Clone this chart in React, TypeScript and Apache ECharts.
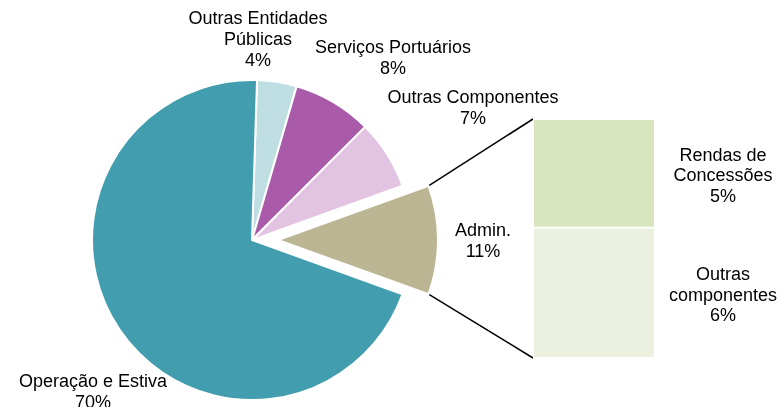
import React, { useEffect, useRef } from "react";
import * as echarts from "echarts";

const pieNames = ["Outras Entidades\nPúblicas", "Serviços Portuários", "Outras Componentes", "Admin.", "Operação e Estiva"];
const pieValues = [4, 8, 7, 11, 70];
const pieColors = ["#BEDEE2", "#A95BAA", "#E3C3E2", "#BCB594", "#429EAE"];

const barNames = ["Outras\ncomponentes", "Rendas de\nConcessões"];
const barValues = [6, 5];
const barColors = ["#EBF1DE", "#D7E4BD"];

// layout (positions only)
const CX = 252, CY = 240, R = 160, OFFSET = 26;
const BAR_LEFT = 533, BAR_TOP = 119, BAR_W = 122, BAR_H = 239;
const labelPos: Record<string, [number, number]> = {
  "Outras Entidades\nPúblicas": [258, 39],
  "Serviços Portuários": [393, 57],
  "Outras Componentes": [473, 107],
  "Admin.": [483, 242],
  "Operação e Estiva": [93, 391],
};

export default function App() {
  const ref = useRef<HTMLDivElement>(null);
  useEffect(() => {
    if (!ref.current) return;
    const chart = echarts.init(ref.current, undefined, { renderer: "svg" });
    const total = pieValues.reduce((a, b) => a + b, 0);
    const adminIdx = pieNames.indexOf("Admin.");
    const before = pieValues.slice(0, adminIdx).reduce((a, b) => a + b, 0);
    const startAngle = ((before + pieValues[adminIdx] / 2) / total) * 360;
    const halfSpan = ((pieValues[adminIdx] / 2) / total) * 360 * Math.PI / 180;
    const ecx = CX + OFFSET;
    const topX = ecx + R * Math.cos(halfSpan);
    const topY = CY - R * Math.sin(halfSpan);
    const botY = CY + R * Math.sin(halfSpan);
    const font = "Liberation Sans, Arial, sans-serif";

    chart.setOption({
      animation: false,
      textStyle: { fontFamily: font },
      grid: { left: BAR_LEFT, top: BAR_TOP, width: BAR_W, height: BAR_H },
      xAxis: { type: "category", data: ["x"], show: false },
      yAxis: { type: "value", min: 0, max: barValues.reduce((a, b) => a + b, 0), show: false },
      series: [
        {
          type: "pie",
          center: [CX, CY],
          radius: [0, R],
          startAngle,
          clockwise: true,
          selectedMode: "single",
          selectedOffset: OFFSET,
          data: pieNames.map((n, i) => ({
            name: n,
            value: pieValues[i],
            selected: i === adminIdx,
            itemStyle: { color: pieColors[i] },
            select: { itemStyle: { color: pieColors[i] } },
          })),
          itemStyle: { borderColor: "#fff", borderWidth: 2 },
          label: {
            show: true,
            formatter: "{b}\n{c}%",
            fontSize: 18,
            lineHeight: 21,
            color: "#000",
            fontFamily: font,
            align: "center",
            overflow: "none",
            width: 220,
          },
          labelLine: { show: false },
          labelLayout: (p: any) => {
            const name = pieNames[p.dataIndex];
            const pos = labelPos[name];
            return { x: pos[0], y: pos[1], align: "center", verticalAlign: "middle" };
          },
          emphasis: { disabled: true },
        },
        ...barNames.map((n, i) => ({
          type: "bar",
          name: n,
          stack: "admin",
          barWidth: "100%",
          data: [barValues[i]],
          itemStyle: { color: barColors[i], borderColor: "#fff", borderWidth: 1 },
          label: {
            show: true,
            position: "right",
            distance: 0,
            align: "center",
            offset: [68, 2],
            formatter: `${n}\n${barValues[i]}%`,
            fontSize: 18,
            lineHeight: 20.5,
            color: "#000",
            fontFamily: font,
          },
          emphasis: { disabled: true },
        })),
      ],
      graphic: [
        { type: "line", shape: { x1: topX, y1: topY, x2: BAR_LEFT, y2: BAR_TOP }, style: { stroke: "#000", lineWidth: 1.5 } },
        { type: "line", shape: { x1: topX, y1: botY, x2: BAR_LEFT, y2: BAR_TOP + BAR_H }, style: { stroke: "#000", lineWidth: 1.5 } },
      ],
    });
    return () => chart.dispose();
  }, []);
  return <div ref={ref} style={{ position: "fixed", left: 0, top: 0, width: 783, height: 407 }} />;
}
